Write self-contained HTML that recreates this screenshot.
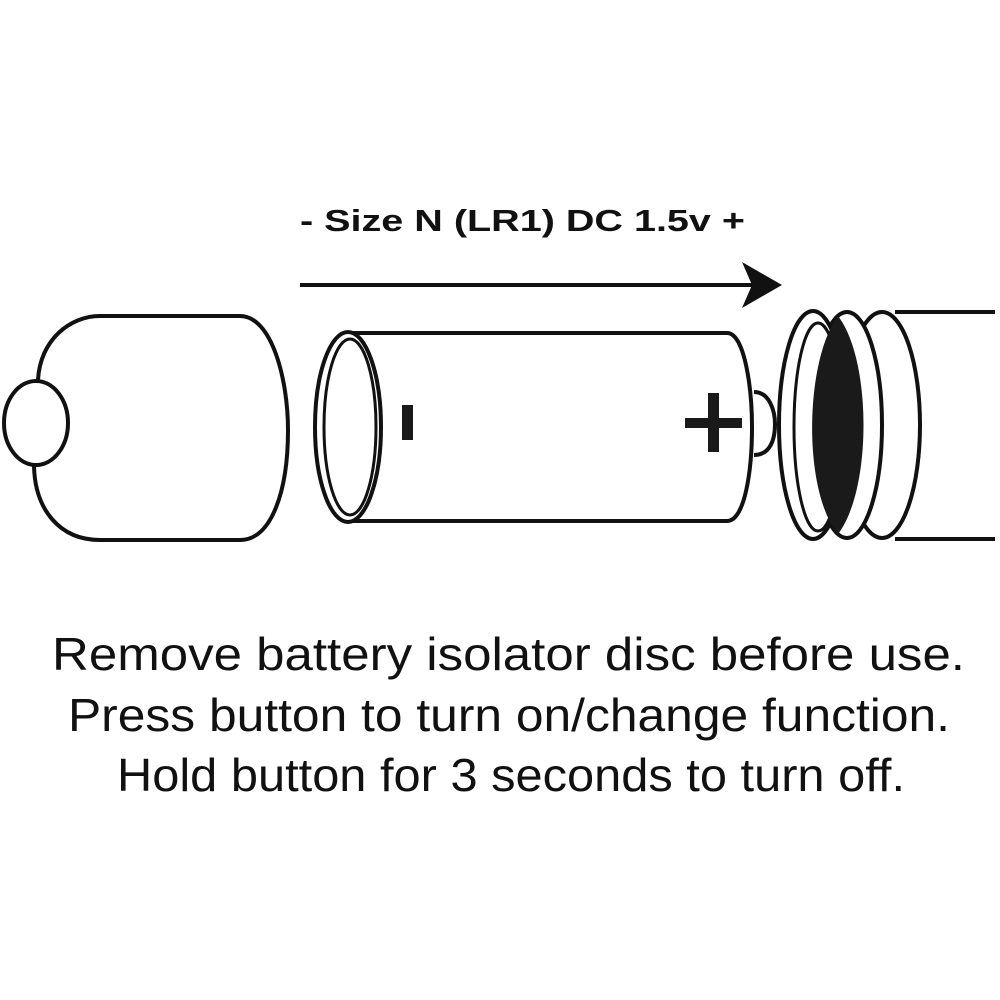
<!DOCTYPE html>
<html><head><meta charset="utf-8"><style>html,body{margin:0;padding:0;background:#fff;width:1000px;height:1000px;overflow:hidden}</style></head>
<body>
<svg width="1000" height="1000" viewBox="0 0 1000 1000" xmlns="http://www.w3.org/2000/svg">
<rect width="1000" height="1000" fill="#fff"/>
<g fill="none" stroke="#111" stroke-width="4">
<path d="M38,380 C40,340 70,316 100,316 L240,316 C272,316 288,380 288,430 C288,490 272,540 240,540 L100,540 C60,540 35,510 34,466"/>
<ellipse cx="36" cy="423" rx="32" ry="42" fill="#fff"/>
<path d="M345,333 L727,333 C745,333 752,390 752,427 C752,470 745,521 727,521 L345,521"/>
<path d="M754,392 C770,392 775,412 775,424 C775,440 770,455 754,455"/>
<ellipse cx="348" cy="427" rx="33" ry="95" fill="#fff"/>
<ellipse cx="350" cy="427" rx="26" ry="88" stroke-width="3"/>
<line x1="895" y1="312" x2="995" y2="312"/>
<line x1="895" y1="539" x2="995" y2="539"/>
<ellipse cx="882" cy="425" rx="38" ry="113" fill="#fff"/>
<ellipse cx="847" cy="425" rx="35" ry="113" fill="#fff"/>
<ellipse cx="813" cy="425" rx="34" ry="114" fill="#fff"/>
<ellipse cx="818" cy="427" rx="24" ry="104" stroke-width="3"/>
<line x1="300" y1="285" x2="752" y2="285" stroke-width="4"/>
</g>
<path d="M838,316 C805,360 802,490 838,534 C872,490 872,360 838,316 Z" fill="#1a1a1a"/>
<path d="M782,285 L742,262 L752,285 L742,308 Z" fill="#111"/>
<rect x="402" y="405" width="11" height="35" fill="#1a1a1a"/>
<rect x="685" y="418" width="57" height="10" fill="#1a1a1a"/>
<rect x="708" y="393" width="11" height="59" fill="#1a1a1a"/>
<g font-family="Liberation Sans, Arial, sans-serif" fill="#111">
<text x="300" y="231" font-size="31" font-weight="bold" textLength="445" lengthAdjust="spacingAndGlyphs">- Size N (LR1) DC 1.5v +</text>
<text x="52" y="670" font-size="46" textLength="913" lengthAdjust="spacingAndGlyphs">Remove battery isolator disc before use.</text>
<text x="68" y="731" font-size="46" textLength="882" lengthAdjust="spacingAndGlyphs">Press button to turn on/change function.</text>
<text x="117" y="791" font-size="46" textLength="788" lengthAdjust="spacingAndGlyphs">Hold button for 3 seconds to turn off.</text>
</g>
</svg>
</body></html>
